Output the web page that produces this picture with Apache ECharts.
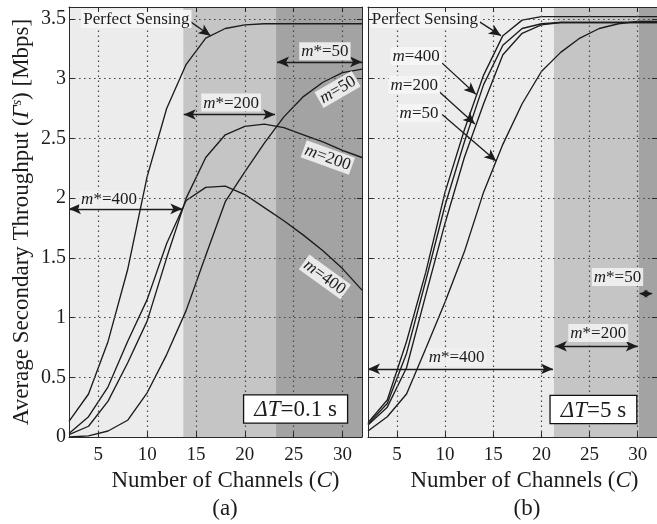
<!DOCTYPE html>
<html>
<head>
<meta charset="utf-8">
<script src="https://cdn.jsdelivr.net/npm/echarts@6/dist/echarts.min.js"></script>
<style>
  html, body { margin: 0; padding: 0; background: #fff; }
  #chart { width: 657px; height: 524px; }
</style>
</head>
<body>
<div id="chart"></div>
<script>
// Number of channels C (x values shared by every curve)
const channels = [2, 4, 6, 8, 10, 12, 14, 16, 18, 20, 22, 24, 26, 28, 30, 32];

// (a) ΔT = 0.1 s — average secondary throughput [Mbps]
const perfectA = [0.13, 0.36, 0.80, 1.40, 2.18, 2.75, 3.12, 3.34, 3.42, 3.45, 3.46, 3.46, 3.46, 3.46, 3.46, 3.46];
const m400A    = [0.03, 0.17, 0.42, 0.80, 1.15, 1.62, 1.98, 2.09, 2.10, 2.03, 1.92, 1.81, 1.69, 1.56, 1.41, 1.23];
const m200A    = [0.02, 0.09, 0.30, 0.62, 0.97, 1.50, 2.00, 2.34, 2.53, 2.60, 2.62, 2.59, 2.53, 2.47, 2.40, 2.34];
const m50A     = [0.00, 0.01, 0.05, 0.14, 0.37, 0.69, 1.06, 1.52, 1.97, 2.22, 2.46, 2.68, 2.85, 2.97, 3.05, 3.08];

// (b) ΔT = 5 s
const perfectB = [0.12, 0.31, 0.80, 1.38, 2.05, 2.57, 3.03, 3.36, 3.49, 3.52, 3.52, 3.52, 3.52, 3.52, 3.52, 3.52];
const m400B    = [0.11, 0.28, 0.70, 1.31, 1.94, 2.47, 2.95, 3.28, 3.42, 3.46, 3.47, 3.47, 3.47, 3.47, 3.47, 3.47];
const m200B    = [0.10, 0.25, 0.58, 1.19, 1.79, 2.34, 2.79, 3.20, 3.38, 3.45, 3.47, 3.47, 3.47, 3.47, 3.47, 3.47];
const m50B     = [0.05, 0.17, 0.36, 0.74, 1.13, 1.55, 2.05, 2.45, 2.79, 3.06, 3.22, 3.34, 3.42, 3.46, 3.48, 3.48];

// Axis ticks
const xTicks = [5, 10, 15, 20, 25, 30];
const yGrid = [0.5, 1, 1.5, 2, 2.5, 3, 3.5];

// Channel ranges where m* = 400 / 200 / 50 is optimal, and the arrow heights
const spansA = [[2, 13.7], [13.7, 23.2], [23.2, 32]];
const arrowsA = [[2, 13.6, 1.91], [13.75, 23.1, 2.70], [23.3, 32, 3.14]];
const spansB = [[2, 21.3], [21.3, 30.1], [30.1, 32]];
const arrowsB = [[2, 21.2, 0.57], [21.4, 30.0, 0.76]];
const tinyArrowB = [30.2, 31.5, 1.20];
const optimumNames = ['400', '200', '50'];
const optimumLabelsA = [[6.1, 1.99], [18.6, 2.80], [28.2, 3.23]];
const optimumLabelsB = [[11.2, 0.67], [25.9, 0.87], [27.9, 1.34]];

// Curve labels of panel (a): [m, C, value, rotation]
const curveTagsA = [['50', 29.5, 2.91, 30], ['200', 28.5, 2.34, -20], ['400', 28.2, 1.34, -36]];
// Curve labels of panel (b) with pointer arrows: [text, labelC, labelY, fromC, fromY, toC, toY]
const curveTagsB = [
  ['400', 7.0, 3.19, 9.7, 3.13, 13.2, 2.87],
  ['200', 6.8, 2.95, 9.4, 2.89, 13.1, 2.62],
  ['50', 7.3, 2.71, 9.7, 2.70, 15.3, 2.31]
];
// "Perfect Sensing" labels: [labelC, labelY, fromC, fromY, toC, toY]
const perfectTagA = [8.9, 3.50, 14.2, 3.49, 16.5, 3.36];
const perfectTagB = [7.9, 3.50, 13.3, 3.49, 15.8, 3.36];
// ΔT boxes: [text, C, value]
const deltaA = ['0.1', 25.2, 0.235];
const deltaB = ['5', 25.4, 0.23];

const SERIF = '"Liberation Serif", "Times New Roman", serif';
const INK = '#1c1c1c';
const SHADES = ['#ececec', '#c5c5c5', '#a3a3a3'];

const pairs = ys => channels.map((c, i) => [c, ys[i]]);

const tagRich = {
  i: { fontFamily: SERIF, fontSize: 17, fontStyle: 'italic', color: INK },
  r: { fontFamily: SERIF, fontSize: 17, color: INK }
};
function textTag(coord, formatter, rotate, bg) {
  return {
    coord: coord,
    symbol: 'rect',
    symbolSize: 1,
    itemStyle: { color: 'rgba(0,0,0,0)' },
    label: {
      show: true, position: 'inside', formatter: formatter, rotate: rotate || 0,
      fontFamily: SERIF, fontSize: 17, color: INK,
      backgroundColor: bg || 'rgba(240,240,240,0.92)',
      padding: [1, 2, 0, 2], rich: tagRich
    }
  };
}
function deltaBox(d) {
  return {
    coord: [d[1], d[2]],
    symbol: 'rect', symbolSize: 1, itemStyle: { color: 'rgba(0,0,0,0)' },
    label: {
      show: true, position: 'inside',
      formatter: '{i|ΔT}{r|=' + d[0] + ' s}',
      backgroundColor: '#ffffff', borderColor: '#111', borderWidth: 1.3,
      padding: [3, 10, 1, 10],
      rich: {
        i: { fontFamily: SERIF, fontSize: 23, fontStyle: 'italic', color: INK },
        r: { fontFamily: SERIF, fontSize: 23, color: INK }
      }
    }
  };
}
function doubleArrow(a, size) {
  return [
    { coord: [a[0], a[2]], symbol: 'arrow', symbolSize: size },
    { coord: [a[1], a[2]], symbol: 'arrow', symbolSize: size }
  ];
}
function pointer(fc, fy, tc, ty) {
  return [{ coord: [fc, fy], symbol: 'none' }, { coord: [tc, ty], symbol: 'arrow' }];
}

function panelSeries(g, curves, spans, arrows, optLabels, tags, pointers, delta) {
  const out = [];
  // shaded regions of the optimal m*
  out.push({
    type: 'line', xAxisIndex: g, yAxisIndex: g, data: [], silent: true, z: 1,
    markArea: {
      silent: true,
      data: spans.map((s, k) => [{ xAxis: s[0], itemStyle: { color: SHADES[k] } }, { xAxis: s[1] }])
    }
  });
  // dotted grid
  out.push({
    type: 'line', xAxisIndex: g, yAxisIndex: g, data: [], silent: true, z: 2,
    markLine: {
      silent: true, symbol: 'none', label: { show: false },
      lineStyle: { type: [1.6, 3.4], color: '#474747', width: 1.2 },
      data: xTicks.map(v => ({ xAxis: v })).concat(yGrid.map(v => ({ yAxis: v })))
    }
  });
  // throughput curves
  curves.forEach(ys => out.push({
    type: 'line', xAxisIndex: g, yAxisIndex: g, data: pairs(ys), z: 3,
    symbol: 'none', smooth: false, silent: true,
    lineStyle: { color: INK, width: 1.35 }
  }));
  // arrows and labels
  out.push({
    type: 'line', xAxisIndex: g, yAxisIndex: g, data: [], silent: true, z: 4,
    markLine: {
      silent: true, symbolSize: [8, 12], label: { show: false },
      lineStyle: { type: 'solid', color: INK, width: 1.3 },
      data: arrows.concat(pointers)
    },
    markPoint: { silent: true, data: optLabels.concat(tags).concat([deltaBox(delta)]) }
  });
  return out;
}

const optTags = (pos) => pos.map((p, k) => textTag(p, '{i|m}{r|*=' + optimumNames[k] + '}'));

const seriesA = panelSeries(
  0, [perfectA, m400A, m200A, m50A], spansA,
  arrowsA.map(a => doubleArrow(a, [8, 12])), optTags(optimumLabelsA),
  [textTag([perfectTagA[0], perfectTagA[1]], '{r|Perfect Sensing}', 0, 'rgba(246,246,246,0.95)')]
    .concat(curveTagsA.map(t => textTag([t[1], t[2]], '{i|m}{r|=' + t[0] + '}', t[3]))),
  [pointer(perfectTagA[2], perfectTagA[3], perfectTagA[4], perfectTagA[5])],
  deltaA
);
const seriesB = panelSeries(
  1, [perfectB, m400B, m200B, m50B], spansB,
  arrowsB.map(a => doubleArrow(a, [8, 12])).concat([doubleArrow(tinyArrowB, [6, 8])]),
  optTags(optimumLabelsB),
  [textTag([perfectTagB[0], perfectTagB[1]], '{r|Perfect Sensing}', 0, 'rgba(246,246,246,0.95)')]
    .concat(curveTagsB.map(t => textTag([t[1], t[2]], '{i|m}{r|=' + t[0] + '}', 0, 'rgba(246,246,246,0.95)'))),
  [pointer(perfectTagB[2], perfectTagB[3], perfectTagB[4], perfectTagB[5])]
    .concat(curveTagsB.map(t => pointer(t[3], t[4], t[5], t[6]))),
  deltaB
);

const frame = { show: true, onZero: false, lineStyle: { color: '#2a2a2a', width: 1 } };
const innerTick = { show: true, inside: true, length: 5, lineStyle: { color: '#2a2a2a' } };
const titleRich = {
  n: { fontFamily: SERIF, fontSize: 23, color: INK },
  i: { fontFamily: SERIF, fontSize: 23, fontStyle: 'italic', color: INK },
  s: { fontFamily: SERIF, fontSize: 14, fontStyle: 'italic', color: INK, verticalAlign: 'top', padding: [0, 0, 10, 0] }
};

function bottomAxis(g) {
  return {
    type: 'value', gridIndex: g, min: 2, max: 32, z: 10, position: 'bottom',
    axisLine: frame,
    axisTick: Object.assign({ customValues: xTicks }, innerTick),
    axisLabel: { show: true, customValues: xTicks, margin: 9, fontFamily: SERIF, fontSize: 19, color: INK },
    splitLine: { show: false },
    name: '{n|Number of Channels (}{i|C}{n|)}',
    nameLocation: 'middle', nameGap: 16,
    nameTextStyle: { rich: titleRich, padding: [0, 0, 0, g === 0 ? 20 : 24] }
  };
}
function topAxis(g) {
  return {
    type: 'value', gridIndex: g, min: 2, max: 32, z: 10, position: 'top',
    axisLine: frame,
    axisTick: Object.assign({ customValues: xTicks }, innerTick),
    axisLabel: { show: false }, splitLine: { show: false }
  };
}
function sideAxis(g, pos, labelled) {
  const ax = {
    type: 'value', gridIndex: g, min: 0, max: 3.6, interval: 0.5, z: 10, position: pos,
    axisLine: frame, axisTick: innerTick, splitLine: { show: false },
    axisLabel: labelled
      ? { show: true, margin: 3, showMaxLabel: false, fontFamily: SERIF, fontSize: 20, color: INK }
      : { show: false }
  };
  if (labelled) {
    ax.name = '{n|Average Secondary Throughput (}{i|Γ}{s|s}{n|) [Mbps]}';
    ax.nameLocation = 'middle';
    ax.nameGap = 35;
    ax.nameTextStyle = { rich: titleRich };
  }
  return ax;
}

const chart = echarts.init(document.getElementById('chart'), null, { renderer: 'canvas' });
chart.setOption({
  animation: false,
  backgroundColor: '#ffffff',
  grid: [
    { left: 69, top: 7, width: 293, height: 430 },
    { left: 368, top: 7, width: 293, height: 430 }
  ],
  xAxis: [bottomAxis(0), bottomAxis(1), topAxis(0), topAxis(1)],
  yAxis: [sideAxis(0, 'left', true), sideAxis(1, 'left', false), sideAxis(0, 'right', false), sideAxis(1, 'right', false)],
  series: seriesA.concat(seriesB),
  graphic: [
    { type: 'text', x: 225, y: 509, style: { text: '(a)', font: '23px ' + SERIF, fill: INK, align: 'center', verticalAlign: 'middle' } },
    { type: 'text', x: 527, y: 509, style: { text: '(b)', font: '23px ' + SERIF, fill: INK, align: 'center', verticalAlign: 'middle' } }
  ]
});
</script>
</body>
</html>
